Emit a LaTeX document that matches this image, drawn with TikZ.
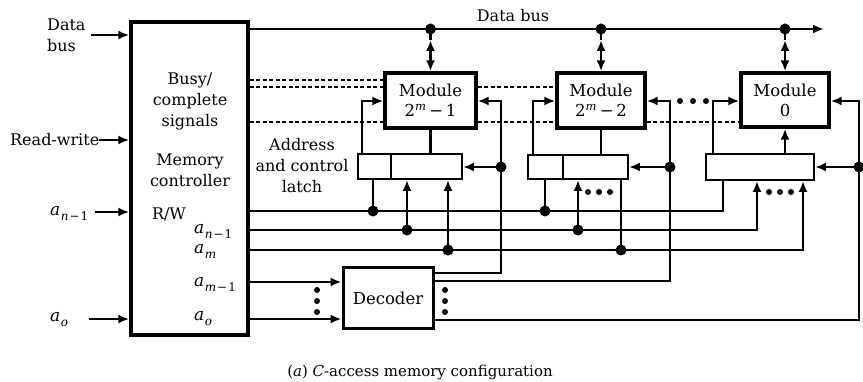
\documentclass[tikz,border=0pt]{standalone}
\usepackage{fontspec}
\setmainfont{DejaVu Serif}
\usetikzlibrary{arrows.meta,calc}
% italic address symbol with a lowered subscript
\newcommand\addr[1]{{\fontsize{17}{21}\selectfont\itshape a}\kern0.5pt\raisebox{-5pt}{\fontsize{12}{14}\selectfont #1}}
\begin{document}
\begin{tikzpicture}[x=1pt,y=-1pt,
  txt/.style={font=\fontsize{16}{21}\selectfont, inner sep=0pt},
  heavybox/.style={draw, line width=3.4pt, inner sep=0pt, font=\fontsize{16.5}{21}\selectfont, align=center},
  latchbox/.style={draw, line width=1.9pt, inner sep=0pt},
  wire/.style={line width=2.4pt},
  arrowend/.style={-{Latex[length=11pt,width=9pt]}},
  bothends/.style={{Latex[length=11pt,width=9pt]}-{Latex[length=11pt,width=9pt]}},
  busysig/.style={line width=1.5pt, dash pattern=on 4pt off 2.5pt},
  jdot/.style={circle, fill, inner sep=0pt, minimum size=11pt},
  ellip/.style={circle, fill, inner sep=0pt, minimum size=6pt},
]
\useasboundingbox (0,0) rectangle (863,382);

% ---------- row and column guides ----------
\coordinate (yBus) at (0,29);
\coordinate (yS1) at (0,80);
\coordinate (yS2) at (0,87);
\coordinate (yS3) at (0,122);
\coordinate (yFeed) at (0,101);
\coordinate (yLat) at (0,167);
\coordinate (yRW) at (0,211);
\coordinate (yAn) at (0,230);
\coordinate (yAm) at (0,250);
\coordinate (yAm1) at (0,282);
\coordinate (yAo) at (0,319);
\coordinate (yD1) at (0,273);
\coordinate (yD2) at (0,281);
\coordinate (yD3) at (0,320);
\coordinate (xF1) at (501,0);
\coordinate (xF2) at (670,0);
\coordinate (xF0) at (859,0);
\coordinate (xa1) at (373,0);
\coordinate (xa2) at (407,0);
\coordinate (xa3) at (448,0);
\coordinate (xb1) at (545,0);
\coordinate (xb2) at (578,0);
\coordinate (xb3) at (621,0);
\coordinate (xc1) at (723,0);
\coordinate (xc2) at (757,0);
\coordinate (xc3) at (803,0);
\coordinate (xl1) at (362,0);
\coordinate (xl2) at (533,0);
\coordinate (xl0) at (713,0);

% ---------- blocks ----------
\node[heavybox, minimum width=117pt, minimum height=313pt] (ctrl) at (189.5,178.5) {};
\node[heavybox, minimum width=91pt, minimum height=55pt] (M1) at (430.5,100.5)
  {Module\\[-1pt]2\textsuperscript{\itshape m}\,−\,1};
\node[heavybox, minimum width=88pt, minimum height=55pt] (M2) at (601,100.5)
  {Module\\[-1pt]2\textsuperscript{\itshape m}\,−\,2};
\node[heavybox, minimum width=88pt, minimum height=54pt] (M0) at (785,100)
  {Module\\[-1pt]0};
\node[latchbox, minimum width=104pt, minimum height=25pt] (L1) at (410,166.5) {};
\node[latchbox, minimum width=100pt, minimum height=24pt] (L2) at (578,167) {};
\node[latchbox, minimum width=108pt, minimum height=26pt] (L0) at (760,167) {};
\node[heavybox, line width=3pt, minimum width=90pt, minimum height=61pt] (dec) at (388,298.5) {Decoder};

% latch dividers
\coordinate (dv1) at (391,0);
\coordinate (dv2) at (563,0);
\draw[line width=1.9pt] (L1.north -| dv1) -- (L1.south -| dv1);
\draw[line width=1.9pt] (L2.north -| dv2) -- (L2.south -| dv2);

% ---------- controller texts ----------
\node[txt, align=center] (bcs) at (190,101) {Busy/\\complete\\signals};
\node[txt, align=center] (mc) at (190,170.5) {Memory\\controller};
\node[txt] (rw) at (169,214) {R/W};
\node[txt, anchor=west] (ian1) at (194,231) {\addr{\textit{n}\kern1pt−\kern1pt1}};
\node[txt, anchor=west] (iam) at (194,251) {\addr{\textit{m}}};
\node[txt, anchor=west] (iam1) at (194,284) {\addr{\textit{m}\kern1pt−\kern1pt1}};
\node[txt, anchor=west] (iao) at (194,319) {\addr{\textit{o}}};

% ---------- inputs on the left ----------
\node[txt, anchor=west, align=left] (dbin) at (47,35) {Data\\bus};
\draw[wire, arrowend] ([xshift=5pt]dbin.east) -- (ctrl.west |- dbin.east);
\node[txt, anchor=west] (rwin) at (10,140) {Read-write};
\draw[wire, arrowend] (rwin.east) -- (ctrl.west |- rwin.east);
\node[txt, anchor=west] (anin) at (50,213) {\addr{\textit{n}\kern1pt−\kern1pt1}};
\coordinate (anArr) at (95,212);
\draw[wire, arrowend] (anArr) -- (ctrl.west |- anArr);
\node[txt, anchor=west] (aoin) at (50,320) {\addr{\textit{o}}};
\coordinate (aoArr) at (89,319);
\draw[wire, arrowend] (aoArr) -- (ctrl.west |- aoArr);

% ---------- data bus ----------
\coordinate (busEnd) at (824,29);
\draw[wire, arrowend] (ctrl.east |- yBus) -- (busEnd);
\node[txt] (dbl) at (513,16) {Data bus};
\foreach \m in {M1,M2,M0}{
  \coordinate (tap\m) at (\m.north |- yBus);
  \node[jdot] at (tap\m) {};
  \draw[wire] (tap\m) -- ++(0,11);
  \draw[wire, bothends] ($(tap\m)+(0,11)$) -- (\m.north);
}

% ---------- busy / complete signals ----------
\draw[busysig] (ctrl.east |- yS1) -- (M1.west |- yS1);
\draw[busysig] (ctrl.east |- yS2) -- (M1.west |- yS2);
\draw[busysig] (M1.east |- yS2) -- (M2.west |- yS2);
\draw[busysig] (ctrl.east |- yS3) -- (M1.west |- yS3);
\draw[busysig] (M1.east |- yS3) -- (M2.west |- yS3);
\draw[busysig] (M2.east |- yS3) -- (M0.west |- yS3);

% ---------- latches to modules ----------
\draw[wire] (M1.south) -- (M1.south |- L1.north);
\draw[wire] (M2.south) -- (M2.south |- L2.north);
\draw[wire, arrowend] (M0.south |- L0.north) -- (M0.south);
\draw[wire, arrowend] (L1.north -| xl1) |- (M1.west |- yFeed);
\draw[wire, arrowend] (L2.north -| xl2) |- (M2.west |- yFeed);
\draw[wire, arrowend] (L0.north -| xl0) |- (M0.west |- yFeed);
\foreach \x in {680,693,706} \node[ellip] at (\x,101) {};

\node[txt, align=center] (acl) at (302,166) {Address\\and control\\latch};

% ---------- address lines ----------
\draw[wire] (ctrl.east |- yRW) -| (L0.south -| xc1);
\draw[wire, arrowend] (ctrl.east |- yAn) -| (L0.south -| xc2);
\draw[wire, arrowend] (ctrl.east |- yAm) -| (L0.south -| xc3);
% taps into latch 2^m-1
\node[jdot] at (xa1 |- yRW) {};
\draw[wire] (xa1 |- yRW) -- (L1.south -| xa1);
\node[jdot] at (xa2 |- yAn) {};
\draw[wire, arrowend] (xa2 |- yAn) -- (L1.south -| xa2);
\node[jdot] at (xa3 |- yAm) {};
\draw[wire, arrowend] (xa3 |- yAm) -- (L1.south -| xa3);
% taps into latch 2^m-2
\node[jdot] at (xb1 |- yRW) {};
\draw[wire] (xb1 |- yRW) -- (L2.south -| xb1);
\node[jdot] at (xb2 |- yAn) {};
\draw[wire, arrowend] (xb2 |- yAn) -- (L2.south -| xb2);
\node[jdot] at (xb3 |- yAm) {};
\draw[wire] (xb3 |- yAm) -- (L2.south -| xb3);
\foreach \x in {588,599,610} \node[ellip] at (\x,192) {};
\foreach \x in {769,780,791} \node[ellip] at (\x,192) {};

% ---------- decoder ----------
\draw[wire, arrowend] (ctrl.east |- yAm1) -- (dec.west |- yAm1);
\draw[wire, arrowend] (ctrl.east |- yAo) -- (dec.west |- yAo);
\foreach \y in {290,301,312} \node[ellip] at (317,\y) {};
\foreach \y in {290,301,312} \node[ellip] at (445,\y) {};
\draw[wire, arrowend] (dec.east |- yD1) -| (xF1 |- yFeed) -- (M1.east |- yFeed);
\draw[wire, arrowend] (dec.east |- yD2) -| (xF2 |- yFeed) -- (M2.east |- yFeed);
\draw[wire, arrowend] (dec.east |- yD3) -| (xF0 |- yFeed) -- (M0.east |- yFeed);
\node[jdot] at (xF1 |- yLat) {};
\draw[wire, arrowend] (xF1 |- yLat) -- (L1.east |- yLat);
\node[jdot] at (xF2 |- yLat) {};
\draw[wire, arrowend] (xF2 |- yLat) -- (L2.east |- yLat);
\node[jdot] at (xF0 |- yLat) {};
\draw[wire, arrowend] (xF0 |- yLat) -- (L0.east |- yLat);

% ---------- caption ----------
\node[font=\fontsize{15}{18}\selectfont] (cap) at (420,372)
  {(\textit{a}) \textit{C}-access memory configuration};
\end{tikzpicture}
\end{document}
